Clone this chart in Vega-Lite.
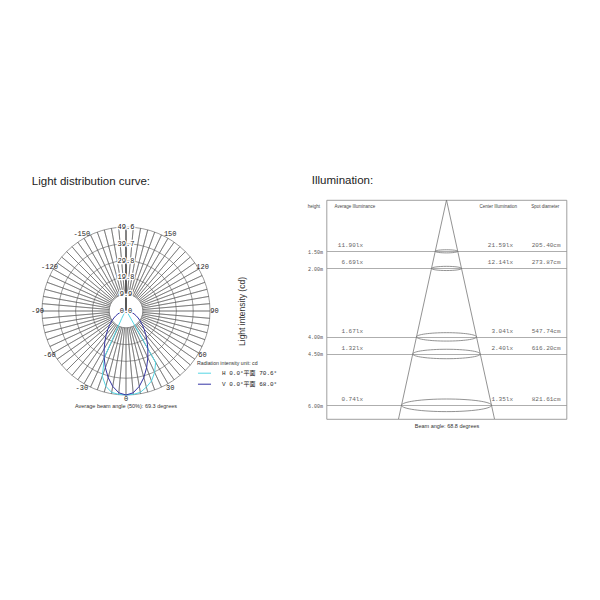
{
  "$schema": "https://vega.github.io/schema/vega-lite/v6.json",
  "background": "white",
  "padding": {"left": 31, "top": 174, "right": 5, "bottom": 5},
  "bounds": "flush",
  "spacing": 116.5,
  "config": {"view": {"stroke": null}, "font": "Liberation Sans"},
  "datasets": {
    "spokes": [{"a":-180},{"a":-175},{"a":-170},{"a":-165},{"a":-160},{"a":-155},{"a":-150},{"a":-145},{"a":-140},{"a":-135},{"a":-130},{"a":-125},{"a":-120},{"a":-115},{"a":-110},{"a":-105},{"a":-100},{"a":-95},{"a":-90},{"a":-85},{"a":-80},{"a":-75},{"a":-70},{"a":-65},{"a":-60},{"a":-55},{"a":-50},{"a":-45},{"a":-40},{"a":-35},{"a":-30},{"a":-25},{"a":-20},{"a":-15},{"a":-10},{"a":-5},{"a":0},{"a":5},{"a":10},{"a":15},{"a":20},{"a":25},{"a":30},{"a":35},{"a":40},{"a":45},{"a":50},{"a":55},{"a":60},{"a":65},{"a":70},{"a":75},{"a":80},{"a":85},{"a":90},{"a":95},{"a":100},{"a":105},{"a":110},{"a":115},{"a":120},{"a":125},{"a":130},{"a":135},{"a":140},{"a":145},{"a":150},{"a":155},{"a":160},{"a":165},{"a":170},{"a":175}],
    "rings": [{"r":9.92},{"r":19.84},{"r":29.76},{"r":39.68},{"r":49.6}],
    "ringLabels": [{"r":0,"lab":"0.0"},{"r":9.92,"lab":"9.9"},{"r":19.84,"lab":"19.8"},{"r":29.76,"lab":"29.8"},{"r":39.68,"lab":"39.7"},{"r":49.6,"lab":"49.6"}],
    "angleLabels": [{"a":-150,"t":"-150"},{"a":-120,"t":"-120"},{"a":-90,"t":"-90"},{"a":-60,"t":"-60"},{"a":-30,"t":"-30"},{"a":0,"t":"0"},{"a":30,"t":"30"},{"a":60,"t":"60"},{"a":90,"t":"90"},{"a":120,"t":"120"},{"a":150,"t":"150"}],
    "curves": [
      {"s":"H 0.0°平面 70.6°","a":-90,"cd":0},{"s":"H 0.0°平面 70.6°","a":-85,"cd":0},{"s":"H 0.0°平面 70.6°","a":-80,"cd":0.05},{"s":"H 0.0°平面 70.6°","a":-75,"cd":0.1},{"s":"H 0.0°平面 70.6°","a":-70,"cd":0.15},{"s":"H 0.0°平面 70.6°","a":-65,"cd":0.25},{"s":"H 0.0°平面 70.6°","a":-60,"cd":0.35},{"s":"H 0.0°平面 70.6°","a":-55,"cd":0.5},{"s":"H 0.0°平面 70.6°","a":-50,"cd":0.7},{"s":"H 0.0°平面 70.6°","a":-45,"cd":1},{"s":"H 0.0°平面 70.6°","a":-40,"cd":1.4},{"s":"H 0.0°平面 70.6°","a":-35,"cd":2.2},{"s":"H 0.0°平面 70.6°","a":-30,"cd":5},{"s":"H 0.0°平面 70.6°","a":-25,"cd":30},{"s":"H 0.0°平面 70.6°","a":-20,"cd":41},{"s":"H 0.0°平面 70.6°","a":-15,"cd":46},{"s":"H 0.0°平面 70.6°","a":-10,"cd":48.8},{"s":"H 0.0°平面 70.6°","a":-5,"cd":49.4},{"s":"H 0.0°平面 70.6°","a":0,"cd":49.6},{"s":"H 0.0°平面 70.6°","a":5,"cd":49.4},{"s":"H 0.0°平面 70.6°","a":10,"cd":48.8},{"s":"H 0.0°平面 70.6°","a":15,"cd":46.5},{"s":"H 0.0°平面 70.6°","a":20,"cd":44},{"s":"H 0.0°平面 70.6°","a":25,"cd":40},{"s":"H 0.0°平面 70.6°","a":30,"cd":35},{"s":"H 0.0°平面 70.6°","a":35,"cd":3},{"s":"H 0.0°平面 70.6°","a":40,"cd":1.5},{"s":"H 0.0°平面 70.6°","a":45,"cd":1},{"s":"H 0.0°平面 70.6°","a":50,"cd":0.7},{"s":"H 0.0°平面 70.6°","a":55,"cd":0.5},{"s":"H 0.0°平面 70.6°","a":60,"cd":0.35},{"s":"H 0.0°平面 70.6°","a":65,"cd":0.25},{"s":"H 0.0°平面 70.6°","a":70,"cd":0.15},{"s":"H 0.0°平面 70.6°","a":75,"cd":0.1},{"s":"H 0.0°平面 70.6°","a":80,"cd":0.05},{"s":"H 0.0°平面 70.6°","a":85,"cd":0},{"s":"H 0.0°平面 70.6°","a":90,"cd":0},
      {"s":"V 0.0°平面 68.0°","a":-90,"cd":0},{"s":"V 0.0°平面 68.0°","a":-85,"cd":1.2},{"s":"V 0.0°平面 68.0°","a":-80,"cd":2.4},{"s":"V 0.0°平面 68.0°","a":-75,"cd":3.7},{"s":"V 0.0°平面 68.0°","a":-70,"cd":5.1},{"s":"V 0.0°平面 68.0°","a":-65,"cd":6.6},{"s":"V 0.0°平面 68.0°","a":-60,"cd":8.3},{"s":"V 0.0°平面 68.0°","a":-55,"cd":10.2},{"s":"V 0.0°平面 68.0°","a":-50,"cd":12.5},{"s":"V 0.0°平面 68.0°","a":-45,"cd":15.1},{"s":"V 0.0°平面 68.0°","a":-40,"cd":18.1},{"s":"V 0.0°平面 68.0°","a":-35,"cd":21.7},{"s":"V 0.0°平面 68.0°","a":-30,"cd":25.8},{"s":"V 0.0°平面 68.0°","a":-25,"cd":30.5},{"s":"V 0.0°平面 68.0°","a":-20,"cd":35.6},{"s":"V 0.0°平面 68.0°","a":-15,"cd":40.7},{"s":"V 0.0°平面 68.0°","a":-10,"cd":45.2},{"s":"V 0.0°平面 68.0°","a":-5,"cd":48.5},{"s":"V 0.0°平面 68.0°","a":0,"cd":49.6},{"s":"V 0.0°平面 68.0°","a":5,"cd":48.5},{"s":"V 0.0°平面 68.0°","a":10,"cd":45.2},{"s":"V 0.0°平面 68.0°","a":15,"cd":40.7},{"s":"V 0.0°平面 68.0°","a":20,"cd":35.6},{"s":"V 0.0°平面 68.0°","a":25,"cd":30.5},{"s":"V 0.0°平面 68.0°","a":30,"cd":25.8},{"s":"V 0.0°平面 68.0°","a":35,"cd":21.7},{"s":"V 0.0°平面 68.0°","a":40,"cd":18.1},{"s":"V 0.0°平面 68.0°","a":45,"cd":15.1},{"s":"V 0.0°平面 68.0°","a":50,"cd":12.5},{"s":"V 0.0°平面 68.0°","a":55,"cd":10.2},{"s":"V 0.0°平面 68.0°","a":60,"cd":8.3},{"s":"V 0.0°平面 68.0°","a":65,"cd":6.6},{"s":"V 0.0°平面 68.0°","a":70,"cd":5.1},{"s":"V 0.0°平面 68.0°","a":75,"cd":3.7},{"s":"V 0.0°平面 68.0°","a":80,"cd":2.4},{"s":"V 0.0°平面 68.0°","a":85,"cd":1.2},{"s":"V 0.0°平面 68.0°","a":90,"cd":0}
    ],
    "heights": [
      {"h":1.5,"avg":"11.90lx","center":"21.59lx","spot":"205.40cm","d":205.40},
      {"h":2.0,"avg":"6.69lx","center":"12.14lx","spot":"273.87cm","d":273.87},
      {"h":4.0,"avg":"1.67lx","center":"3.04lx","spot":"547.74cm","d":547.74},
      {"h":4.5,"avg":"1.32lx","center":"2.40lx","spot":"616.20cm","d":616.20},
      {"h":6.0,"avg":"0.74lx","center":"1.35lx","spot":"821.61cm","d":821.61}
    ],
    "cone": [{"x":0,"y":0,"x2":-4.38,"y2":6.4},{"x":0,"y":0,"x2":4.38,"y2":6.4}],
    "headers": [{"height":"height","avg":"Average Illuminance","center":"Center Illumination","spot":"Spot diameter"}],
    "beam": [{"t":"Average beam angle (50%): 69.3 degrees"}]
  },
  "hconcat": [
    {
      "width": 168,
      "height": 222,
      "title": {"text": "Light distribution curve:", "anchor": "start", "frame": "group", "dx": -10.2, "offset": 13, "fontSize": 11.5, "fontWeight": "normal", "color": "#222", "font": "Liberation Sans"},
      "layer": [
        {
          "data": {"name": "rings"},
          "mark": {"type": "arc", "filled": false, "stroke": "#555", "strokeWidth": 0.6},
          "encoding": {
            "theta": {"datum": -180, "type": "quantitative", "scale": {"domain": [-180, 180], "range": [6.283185, 0]}},
            "theta2": {"datum": 180},
            "radius": {"field": "r", "type": "quantitative", "stack": null, "scale": {"type": "linear", "domain": [0, 49.6], "range": [0, 84], "zero": true}}
          }
        },
        {
          "data": {"name": "spokes"},
          "mark": {"type": "arc", "filled": false, "stroke": "#555", "strokeWidth": 0.5},
          "encoding": {
            "theta": {"field": "a", "type": "quantitative", "stack": null, "scale": {"domain": [-180, 180], "range": [6.283185, 0]}},
            "theta2": {"field": "a"},
            "radius": {"datum": 49.6, "type": "quantitative", "scale": {"type": "linear", "domain": [0, 49.6], "range": [0, 84], "zero": true}},
            "radius2": {"datum": 9.92}
          }
        },
        {
          "data": {"name": "curves"},
          "transform": [
            {"calculate": "datum.cd * sin(datum.a * PI / 180)", "as": "px"},
            {"calculate": "-datum.cd * cos(datum.a * PI / 180)", "as": "py"}
          ],
          "mark": {"type": "line", "strokeWidth": 1},
          "encoding": {
            "x": {"field": "px", "type": "quantitative", "scale": {"domain": [-49.6, 49.6], "nice": false, "zero": false}, "axis": null},
            "y": {"field": "py", "type": "quantitative", "scale": {"domain": [-65.54, 65.54], "nice": false, "zero": false},
                  "axis": {"orient": "right", "title": "Light intensity (cd)", "titleAngle": 270, "labels": false, "ticks": false, "domain": false, "grid": false, "titleFontSize": 8.5, "titleFontWeight": "normal", "titleColor": "#333", "titlePadding": 36, "titleFont": "Liberation Sans"}},
            "color": {"field": "s", "type": "nominal",
                      "scale": {"domain": ["H 0.0°平面 70.6°", "V 0.0°平面 68.0°"], "range": ["#55d6e4", "#3434a4"]},
                      "legend": {"orient": "none", "legendX": 155, "legendY": 161, "title": "Radiation intensity unit: cd", "titleFontSize": 5.2, "titleFontWeight": "normal", "titleFont": "Liberation Sans", "titleColor": "#333", "labelFont": "Liberation Mono, Noto Sans CJK SC", "labelFontSize": 6, "labelColor": "#222", "symbolType": "stroke", "symbolSize": 170, "symbolStrokeWidth": 1, "labelOffset": 10, "rowPadding": -3.5, "titlePadding": -0.5, "padding": 0}},
            "order": {"field": "a", "type": "quantitative"}
          }
        },
        {
          "data": {"name": "ringLabels"},
          "mark": {"type": "text", "font": "Liberation Mono", "fontSize": 7, "stroke": "white", "strokeWidth": 2.5, "fill": "white", "baseline": "middle"},
          "encoding": {
            "theta": {"datum": 180, "type": "quantitative", "scale": {"domain": [-180, 180], "range": [6.283185, 0]}},
            "radius": {"field": "r", "type": "quantitative", "stack": null, "scale": {"type": "linear", "domain": [0, 49.6], "range": [0, 84], "zero": true}},
            "text": {"field": "lab"}
          }
        },
        {
          "data": {"name": "ringLabels"},
          "mark": {"type": "text", "font": "Liberation Mono", "fontSize": 7, "color": "#222", "baseline": "middle"},
          "encoding": {
            "theta": {"datum": 180, "type": "quantitative", "scale": {"domain": [-180, 180], "range": [6.283185, 0]}},
            "radius": {"field": "r", "type": "quantitative", "stack": null, "scale": {"type": "linear", "domain": [0, 49.6], "range": [0, 84], "zero": true}},
            "text": {"field": "lab"}
          }
        },
        {
          "data": {"name": "angleLabels"},
          "mark": {"type": "text", "font": "Liberation Mono", "fontSize": 7, "color": "#222", "baseline": "middle"},
          "encoding": {
            "theta": {"field": "a", "type": "quantitative", "stack": null, "scale": {"domain": [-180, 180], "range": [6.283185, 0]}},
            "radius": {"datum": 52.2, "type": "quantitative", "scale": {"type": "linear", "domain": [0, 49.6], "range": [0, 84], "zero": true}},
            "text": {"field": "t"}
          }
        },
        {
          "data": {"name": "beam"},
          "mark": {"type": "text", "font": "Liberation Sans", "fontSize": 5.5, "color": "#333", "baseline": "middle"},
          "encoding": {
            "theta": {"datum": 0, "type": "quantitative", "scale": {"domain": [-180, 180], "range": [6.283185, 0]}},
            "radius": {"datum": 56.2, "type": "quantitative", "scale": {"type": "linear", "domain": [0, 49.6], "range": [0, 84], "zero": true}},
            "text": {"field": "t"}
          }
        }
      ]
    },
    {
      "width": 240,
      "height": 219,
      "view": {"stroke": "#888", "strokeWidth": 0.8},
      "title": {"text": "Illumination:", "anchor": "start", "frame": "group", "dx": -14.7, "offset": 13, "fontSize": 11.5, "fontWeight": "normal", "color": "#222", "font": "Liberation Sans"},
      "layer": [
        {
          "data": {"name": "cone"},
          "mark": {"type": "rule", "color": "#777", "strokeWidth": 0.8},
          "encoding": {
            "x": {"field": "x", "type": "quantitative", "scale": {"domain": [-10.95, 10.95], "nice": false, "zero": false},
                  "axis": {"title": "Beam angle: 68.8 degrees", "labels": false, "ticks": false, "domain": false, "grid": false, "titleFontSize": 5.5, "titleFont": "Liberation Sans", "titleFontWeight": "normal", "titleColor": "#333", "titlePadding": 4}},
            "y": {"field": "y", "type": "quantitative", "scale": {"domain": [0, 6.4], "reverse": true, "nice": false, "zero": true},
                  "axis": {"values": [1.5, 2, 4, 4.5, 6], "labelExpr": "format(datum.value, '.2f') + 'm'", "title": null, "ticks": false, "domain": false, "grid": true, "gridColor": "#999", "gridWidth": 0.8, "labelFont": "Liberation Mono", "labelFontSize": 5, "labelColor": "#555", "labelPadding": 4}},
            "x2": {"field": "x2"},
            "y2": {"field": "y2"}
          }
        },
        {
          "data": {"name": "heights"},
          "mark": {"type": "point", "shape": "M-1,0 C-1,-0.0773 -0.5523,-0.14 0,-0.14 C0.5523,-0.14 1,-0.0773 1,0 C1,0.0773 0.5523,0.14 0,0.14 C-0.5523,0.14 -1,0.0773 -1,0 Z", "filled": false, "color": "#777", "strokeWidth": 0.8, "opacity": 1},
          "encoding": {
            "x": {"datum": 0, "type": "quantitative"},
            "y": {"field": "h", "type": "quantitative"},
            "size": {"field": "d", "type": "quantitative", "scale": {"type": "pow", "exponent": 2, "domain": [0, 821.61], "range": [0, 8100]}, "legend": null}
          }
        },
        {
          "data": {"name": "heights"},
          "mark": {"type": "text", "align": "right", "baseline": "middle", "dy": -6.3, "font": "Liberation Mono", "fontSize": 6, "color": "#666"},
          "encoding": {"x": {"datum": -7.62, "type": "quantitative"}, "y": {"field": "h", "type": "quantitative"}, "text": {"field": "avg"}}
        },
        {
          "data": {"name": "heights"},
          "mark": {"type": "text", "align": "right", "baseline": "middle", "dy": -6.3, "font": "Liberation Mono", "fontSize": 6, "color": "#666"},
          "encoding": {"x": {"datum": 6.07, "type": "quantitative"}, "y": {"field": "h", "type": "quantitative"}, "text": {"field": "center"}}
        },
        {
          "data": {"name": "heights"},
          "mark": {"type": "text", "align": "right", "baseline": "middle", "dy": -6.3, "font": "Liberation Mono", "fontSize": 6, "color": "#666"},
          "encoding": {"x": {"datum": 10.41, "type": "quantitative"}, "y": {"field": "h", "type": "quantitative"}, "text": {"field": "spot"}}
        },
        {
          "data": {"name": "headers"},
          "mark": {"type": "text", "align": "left", "baseline": "middle", "fontSize": 4.5, "color": "#444"},
          "encoding": {"x": {"datum": -12.66, "type": "quantitative"}, "y": {"datum": 0.196, "type": "quantitative"}, "text": {"field": "height"}}
        },
        {
          "data": {"name": "headers"},
          "mark": {"type": "text", "align": "left", "baseline": "middle", "fontSize": 4.5, "color": "#444"},
          "encoding": {"x": {"datum": -10.22, "type": "quantitative"}, "y": {"datum": 0.196, "type": "quantitative"}, "text": {"field": "avg"}}
        },
        {
          "data": {"name": "headers"},
          "mark": {"type": "text", "align": "left", "baseline": "middle", "fontSize": 4.5, "color": "#444"},
          "encoding": {"x": {"datum": 3.01, "type": "quantitative"}, "y": {"datum": 0.196, "type": "quantitative"}, "text": {"field": "center"}}
        },
        {
          "data": {"name": "headers"},
          "mark": {"type": "text", "align": "left", "baseline": "middle", "fontSize": 4.5, "color": "#444"},
          "encoding": {"x": {"datum": 7.73, "type": "quantitative"}, "y": {"datum": 0.196, "type": "quantitative"}, "text": {"field": "spot"}}
        }
      ]
    }
  ]
}
